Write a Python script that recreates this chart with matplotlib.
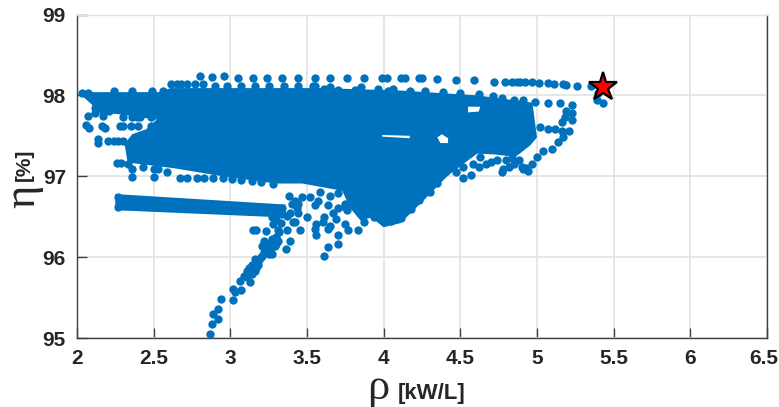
# efficiency vs power density scatter
import matplotlib
matplotlib.use('Agg')
import matplotlib.pyplot as plt
from matplotlib.transforms import ScaledTranslation

# isolated points, top rows
top_rho = [2.80, 2.88, 2.96, 3.05, 3.15, 3.24, 3.34, 3.44, 3.55, 3.65, 3.76, 3.87, 3.99, 4.02, 4.11, 4.14, 4.23, 4.25,
           4.35, 4.47, 4.59, 4.72, 4.79, 4.84, 4.87, 4.89, 4.92, 4.97, 5.01, 5.07, 5.11, 5.17, 5.19, 5.26, 5.35]
top_eta = [98.24, 98.23, 98.24, 98.22, 98.22, 98.22, 98.22, 98.22, 98.22, 98.21, 98.21, 98.21, 98.21, 98.21, 98.21, 98.21, 98.21, 98.21,
           98.2, 98.19, 98.19, 98.17, 98.17, 98.17, 98.165, 98.165, 98.165, 98.16, 98.15, 98.15, 98.14, 98.14, 98.13, 98.12, 98.11]

second_rho = [2.61, 2.65, 2.68, 2.72, 2.77, 2.82, 2.90, 2.98, 3.07, 3.16, 3.25, 3.35, 3.44, 3.54,
              3.55, 3.61, 3.65, 3.70, 3.81, 3.85, 3.96, 4.03, 4.06, 4.17, 4.27, 4.39, 4.50, 4.62, 4.71, 4.77, 4.85, 4.91, 4.99]
second_eta = [98.14, 98.14, 98.14, 98.14, 98.14, 98.14, 98.12, 98.12, 98.12, 98.12, 98.12, 98.11, 98.11, 98.11,
              98.11, 98.08, 98.10, 98.07, 98.07, 98.10, 98.08, 98.05, 98.08, 98.06, 98.05, 98.04, 98.03, 98.02, 97.99, 97.97, 97.94, 97.94, 97.92]

# left edge of the cloud
left_rho = [2.03, 2.07, 2.24, 2.36, 2.49, 2.56, 2.07, 2.06, 2.08, 2.16, 2.18, 2.28, 2.30, 2.14, 2.14, 2.20, 2.24, 2.27, 2.30,
            2.12, 2.12, 2.17, 2.21, 2.30, 2.36, 2.41, 2.48, 2.26, 2.29, 2.36, 2.36, 2.50, 2.50,
            2.67, 2.72, 2.78, 2.83, 2.89, 2.95, 3.01, 3.07, 3.14, 3.20, 3.28,
            2.17, 2.39, 2.35, 2.40, 2.48, 2.43, 2.59, 2.33, 2.53]
left_eta = [98.03, 98.03, 98.05, 98.05, 98.05, 98.05, 97.75, 97.63, 97.60, 97.62, 97.60, 97.62, 97.62, 97.46, 97.41, 97.44, 97.44, 97.44, 97.44,
            97.84, 97.78, 97.81, 97.81, 97.73, 97.73, 97.73, 97.73, 97.17, 97.17, 97.09, 96.99, 97.09, 96.99,
            96.98, 96.98, 96.98, 96.98, 96.98, 96.98, 96.96, 96.95, 96.94, 96.93, 96.91,
            97.75, 97.73, 97.62, 97.62, 97.62, 97.11, 97.05, 97.15, 97.09]

# right edge of the cloud
right_rho = [5.19, 5.23, 5.23, 5.15, 5.07, 5.23, 5.18, 5.16, 5.21, 5.16, 5.12, 5.07, 5.02, 5.17, 5.14, 5.10, 5.04, 5.00, 4.97, 4.94,
             4.91, 4.85, 4.82, 4.77, 4.67, 4.62, 4.57, 4.52, 4.47, 4.52, 4.58, 4.63, 5.39, 5.43, 5.40,
             4.88, 4.84, 4.80, 4.74, 4.70, 4.78, 4.90, 4.93,
             4.40, 4.35, 4.30, 4.23, 4.18, 4.11, 4.05, 4.00, 3.94]
right_eta = [97.81, 97.78, 97.88, 97.90, 97.90, 97.69, 97.73, 97.67, 97.56, 97.56, 97.58, 97.59, 97.61, 97.48, 97.42, 97.34, 97.31, 97.24, 97.15, 97.06,
             97.09, 97.15, 97.12, 97.05, 97.15, 97.11, 97.02, 96.98, 97.05, 97.11, 97.15, 97.24, 97.94, 97.90, 98.03,
             97.20, 97.22, 97.20, 97.20, 97.18, 97.09, 97.12, 97.10,
             97.05, 96.92, 96.81, 96.71, 96.59, 96.48, 96.45, 96.43, 96.49]

# branch going down to 95 and the points beside it
stem_rho = [2.87, 2.88, 2.92, 2.885, 2.92, 2.94, 3.02, 3.03, 3.02, 3.07, 3.06, 3.13, 3.11, 3.14, 3.14, 3.18, 3.16, 3.205, 3.25, 3.27,
            3.23, 3.15, 3.17, 3.23, 3.28, 3.32, 3.29, 3.36, 3.39, 3.37, 3.37, 3.42, 3.455, 3.44, 3.50, 3.55, 3.56, 3.61, 3.64, 3.64, 3.61,
            3.69, 3.70, 3.70, 3.75, 3.77, 3.83, 3.55, 3.64, 3.75, 3.87, 3.11, 3.16, 3.19, 3.205, 3.30, 3.31, 3.32, 3.30, 3.40,
            3.38, 3.42, 3.47, 3.44,
            3.52, 3.585, 3.65, 3.70, 3.75, 3.70, 3.76, 3.435, 3.39, 3.41, 3.57, 3.605, 3.67, 3.65, 3.56,
            3.12, 3.17, 3.20, 3.22, 3.26, 3.30, 3.27, 3.31, 3.33, 3.27, 3.09, 3.22, 3.26]
stem_eta = [95.05, 95.17, 95.24, 95.30, 95.36, 95.48, 95.47, 95.57, 95.60, 95.59, 95.71, 95.69, 95.83, 95.79, 95.90, 95.90, 95.98, 96.02, 96.04, 96.04,
            96.15, 96.33, 96.33, 96.32, 96.41, 96.31, 96.14, 96.10, 96.20, 96.33, 96.51, 96.43, 96.34, 96.54, 96.49, 96.35, 96.41, 96.50, 96.35, 96.12, 96.02,
            96.47, 96.27, 96.16, 96.41, 96.33, 96.33, 96.64, 96.64, 96.62, 96.43, 95.75, 95.83, 95.96, 96.14, 96.25, 96.33, 96.58, 96.47, 96.66,
            96.76, 96.70, 96.74, 96.66,
            96.74, 96.80, 96.76, 96.79, 96.66, 96.61, 96.58, 96.61, 96.54, 96.43, 96.70, 96.43, 96.54, 96.39, 96.27,
            95.87, 95.87, 96.00, 96.06, 96.10, 96.16, 96.22, 96.20, 96.42, 96.50, 95.77, 96.20, 96.18]

# lower band corners
band_rho = [2.27, 2.27, 3.34, 3.34]
band_eta = [96.74, 96.62, 96.61, 96.53]

# saturated part of the cloud, outline
mass_rho = [2.03, 2.54, 2.61, 3.59, 4.11, 4.61, 4.97, 5.00, 4.955, 4.86, 4.72, 4.61, 4.42, 4.26, 4.11, 4.00, 3.92, 3.85, 3.78, 3.73, 3.47,
            3.30, 2.98, 2.63, 2.33, 2.31, 2.36, 2.45, 2.52, 2.30, 2.12, 2.10, 2.03]
mass_eta = [98.04, 98.04, 98.09, 98.09, 98.06, 98.00, 97.91, 97.48, 97.38, 97.24, 97.27, 97.28, 97.01, 96.70, 96.42, 96.37, 96.49, 96.45, 96.61, 96.82, 96.91,
            96.91, 96.99, 97.10, 97.17, 97.40, 97.52, 97.58, 97.70, 97.76, 97.80, 97.88, 98.00]

band_out_rho = [2.25, 3.36, 3.36, 2.25]
band_out_eta = [96.78, 96.65, 96.49, 96.58]

# gaps inside the cloud
hole1_rho = [4.35, 4.38, 4.42, 4.42, 4.37]
hole1_eta = [97.48, 97.52, 97.47, 97.41, 97.41]
hole2_rho = [3.99, 4.17, 4.17, 3.99]
hole2_eta = [97.51, 97.50, 97.47, 97.49]
hole3_rho = [4.55, 4.63, 4.62, 4.55]
hole3_eta = [97.86, 97.86, 97.80, 97.79]

best_rho = [5.43]
best_eta = [98.10]

x_ticks = [2, 2.5, 3, 3.5, 4, 4.5, 5, 5.5, 6, 6.5]
x_labels = ['2', '2.5', '3', '3.5', '4', '4.5', '5', '5.5', '6', '6.5']
y_ticks = [95, 96, 97, 98, 99]

blue = '#0072BD'

fig = plt.figure(figsize=(7.79, 4.07), dpi=100)
ax = fig.add_axes([77 / 779, 1 - 338 / 407, 690 / 779, 323.5 / 407])

ax.fill(mass_rho, mass_eta, color=blue, lw=0, zorder=2)
ax.fill(band_out_rho, band_out_eta, color=blue, lw=0, zorder=2)
for hr, he in [(hole1_rho, hole1_eta), (hole2_rho, hole2_eta), (hole3_rho, hole3_eta)]:
    ax.fill(hr, he, color='white', lw=0, zorder=2.5)

for r, e in [(top_rho, top_eta), (second_rho, second_eta), (left_rho, left_eta),
             (right_rho, right_eta), (stem_rho, stem_eta), (band_rho, band_eta)]:
    ax.scatter(r, e, s=36, color=blue, lw=0, zorder=3)

ax.plot(best_rho, best_eta, marker='*', ms=21, mfc='red', mec='black', mew=1.6, ls='none', zorder=4)

ax.set_xlim(2, 6.5)
ax.set_ylim(95, 99)
ax.set_xticks(x_ticks)
ax.set_xticklabels(x_labels)
ax.set_yticks(y_ticks)
ax.grid(color='#e2e2e2', lw=1.2, zorder=0)
ax.set_axisbelow(True)
ax.tick_params(direction='in', length=7, width=1, color='#404040', labelcolor='#262626', pad=8)
for lab in ax.get_xticklabels() + ax.get_yticklabels():
    lab.set_fontfamily('Liberation Sans')
    lab.set_fontweight('bold')
    lab.set_fontsize(15)
# keep the last label inside the picture
last = ax.get_xticklabels()[-1]
last.set_transform(last.get_transform() + ScaledTranslation(-3 / 100, 0, fig.dpi_scale_trans))
for s in ax.spines.values():
    s.set_color('#404040')
    s.set_linewidth(1)
ax.spines['top'].set_color('#e2e2e2')

fig.text(378 / 779, 1 - 388 / 407, 'ρ', fontsize=32, color='#262626', ha='center', va='center', family='Liberation Serif')
fig.text(432 / 779, 1 - 393 / 407, '[kW/L]', fontsize=16, fontweight='bold', color='#262626', ha='center', va='center',
         family='Liberation Sans')
fig.text(23 / 779, 1 - 196 / 407, 'η', fontsize=32, color='#262626', ha='center', va='center', rotation=90, family='Liberation Serif')
fig.text(24 / 779, 1 - 165 / 407, '[%]', fontsize=15, fontweight='bold', color='#262626', ha='center', va='center', rotation=90,
         family='Liberation Sans')

fig.savefig('out.png', dpi=100)
